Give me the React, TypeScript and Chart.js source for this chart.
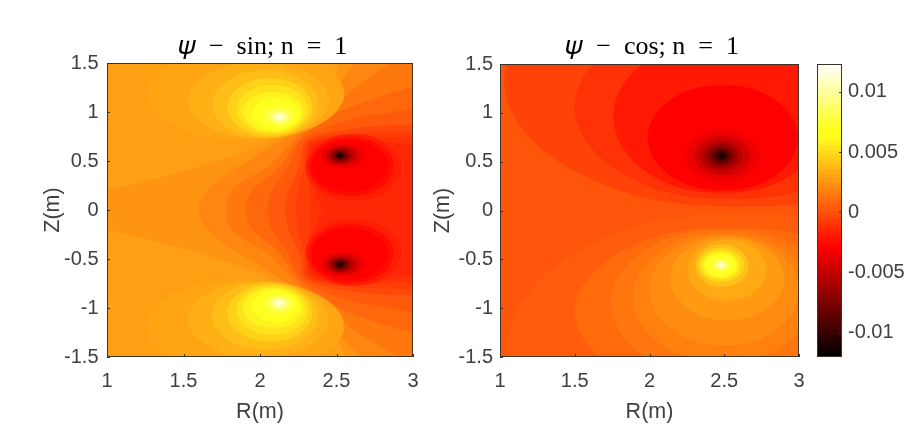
import React, { useEffect, useRef } from "react";
import { Chart, registerables } from "chart.js";

Chart.register(...registerables);

// Colour scale limits and tick values
const colorMin = -0.012;
const colorMax = 0.0123;
const colorTicks = [-0.01, -0.005, 0, 0.005, 0.01];
const colorSteps = 64;
const rTicks = [1, 1.5, 2, 2.5, 3];
const zTicks = [-1.5, -1, -0.5, 0, 0.5, 1, 1.5];

// Contours.
// Rings: [level, Rmin, Rmax, Zmin, Zmax]
type Ring = number[];
const sinBackground = 0.0028;
const sinFanLevels = [0.0024, 0.0019, 0.0014, 0.0008, 0.0003, -0.0003, -0.0007, -0.0011, -0.0015];
// Upper half of each "psi below level" boundary, from the midplane out to the edge
const sinFanArcs: number[][][] = [
  [[0.9, 0.19], [1.07, 0.22], [1.6, 0.44], [1.93, 0.61], [2.26, 0.86], [2.42, 1.1], [2.6, 1.6]],
  [[1.6, 0], [1.63, 0.15], [1.76, 0.34], [1.98, 0.55], [2.24, 0.82], [2.45, 1.15], [2.72, 1.6]],
  [[1.78, 0], [1.82, 0.21], [2.05, 0.44], [2.26, 0.78], [2.5, 1.1], [2.95, 1.55]],
  [[1.91, 0], [1.95, 0.2], [2.12, 0.42], [2.27, 0.74], [2.55, 1.02], [3.0, 1.26], [3.3, 1.4]],
  [[2.05, 0], [2.08, 0.2], [2.18, 0.42], [2.28, 0.72], [2.6, 0.92], [3.0, 1.03], [3.3, 1.1]],
  [[2.17, 0], [2.19, 0.2], [2.26, 0.45], [2.3, 0.7], [2.6, 0.83], [3.0, 0.87], [3.3, 0.88]],
  [[2.24, 0], [2.25, 0.2], [2.29, 0.45], [2.31, 0.69], [2.6, 0.78], [3.0, 0.8], [3.3, 0.8]],
  [[2.33, 0], [2.33, 0.2], [2.31, 0.45], [2.33, 0.68], [2.6, 0.74], [3.0, 0.74], [3.3, 0.74]],
  [[2.42, 0], [2.38, 0.1], [2.33, 0.4], [2.34, 0.66], [2.6, 0.7], [3.0, 0.66], [3.3, 0.6]],
];
const sinSpotRings: Ring[] = [
  [-0.0018, 2.3, 2.92, 0.1, 0.77],
  [-0.0025, 2.32, 2.87, 0.15, 0.74],
  [-0.0029, 2.34, 2.83, 0.19, 0.71],
  [-0.0036, 2.4, 2.68, 0.43, 0.67],
  [-0.0046, 2.43, 2.64, 0.46, 0.65],
  [-0.0056, 2.45, 2.61, 0.48, 0.63],
  [-0.0066, 2.465, 2.59, 0.49, 0.62],
  [-0.0076, 2.48, 2.57, 0.505, 0.605],
  [-0.0088, 2.49, 2.555, 0.52, 0.59],
  [-0.01, 2.5, 2.545, 0.53, 0.58],
  [-0.0112, 2.51, 2.535, 0.54, 0.57],
];
const sinPeakRings: Ring[] = [
  [0.003, 1.26, 2.55, 0.72, 1.65],
  [0.0034, 1.53, 2.45, 0.74, 1.5],
  [0.0039, 1.69, 2.38, 0.74, 1.42],
  [0.0046, 1.79, 2.34, 0.76, 1.34],
  [0.0052, 1.85, 2.31, 0.78, 1.27],
  [0.0058, 1.89, 2.28, 0.8, 1.2],
  [0.0064, 1.95, 2.26, 0.82, 1.14],
  [0.0072, 2.0, 2.24, 0.85, 1.08],
  [0.008, 2.04, 2.21, 0.87, 1.04],
  [0.009, 2.07, 2.19, 0.89, 1.01],
  [0.0102, 2.09, 2.165, 0.91, 0.99],
  [0.0115, 2.105, 2.145, 0.935, 0.965],
];
const cosBackground = 0.00015;
const cosUpperRings: Ring[] = [
  [-0.0005, 1.03, 4.2, 0.04, 2.6],
  [-0.0011, 1.5, 3.6, 0.12, 2.0],
  [-0.002, 1.76, 3.2, 0.18, 1.74],
  [-0.0029, 1.99, 2.99, 0.21, 1.28],
  [-0.0035, 2.24, 2.74, 0.3, 0.82],
  [-0.0045, 2.3, 2.67, 0.36, 0.76],
  [-0.0055, 2.34, 2.62, 0.41, 0.71],
  [-0.0065, 2.37, 2.59, 0.44, 0.68],
  [-0.0075, 2.4, 2.56, 0.47, 0.65],
  [-0.0085, 2.42, 2.54, 0.49, 0.63],
  [-0.0095, 2.44, 2.52, 0.51, 0.61],
  [-0.0105, 2.45, 2.51, 0.53, 0.59],
  [-0.0115, 2.465, 2.495, 0.545, 0.575],
];
const cosLowerRings: Ring[] = [
  [0.0004, 1.05, 4.2, -2.8, -0.03],
  [0.0009, 1.5, 3.6, -1.9, -0.18],
  [0.0013, 1.74, 3.25, -1.7, -0.2],
  [0.0017, 1.89, 3.1, -1.55, -0.24],
  [0.0021, 2.0, 3.0, -1.38, -0.26],
  [0.0026, 2.14, 2.9, -1.12, -0.28],
  [0.0032, 2.26, 2.78, -0.92, -0.3],
  [0.004, 2.31, 2.66, -0.78, -0.35],
  [0.0048, 2.33, 2.63, -0.73, -0.39],
  [0.0056, 2.35, 2.6, -0.7, -0.42],
  [0.0064, 2.37, 2.58, -0.68, -0.44],
  [0.0072, 2.39, 2.56, -0.65, -0.46],
  [0.0085, 2.43, 2.53, -0.62, -0.5],
  [0.01, 2.45, 2.51, -0.59, -0.53],
  [0.0115, 2.465, 2.495, -0.575, -0.545],
];

// Outline vertices of a ring, in units of its half-extents
const ringOutline = [
  [-1, 0], [-0.71, 0.71], [0, 1], [0.71, 0.71], [1, 0], [0.71, -0.71], [0, -1], [-0.71, -0.71],
];

function hot(v: number) {
  const f = Math.min(1, Math.max(0, (v - colorMin) / (colorMax - colorMin)));
  const r = Math.min(1, f / 0.375);
  const g = Math.min(1, Math.max(0, (f - 0.375) / 0.375));
  const b = Math.max(0.12 * g, Math.min(1, Math.max(0, (f - 0.75) / 0.25)));
  return `rgb(${Math.round(r * 255)},${Math.round(g * 255)},${Math.round(b * 255)})`;
}

type Layer = { level: number; pts: { x: number; y: number }[]; tension: number };

function ringLayer(ring: Ring, mirror = false): Layer {
  const [level, r0, r1, z0, z1] = ring;
  const cr = (r0 + r1) / 2, cz = (z0 + z1) / 2, hr = (r1 - r0) / 2, hz = (z1 - z0) / 2;
  const v = ringOutline.map(([a, b]) => ({ x: cr + a * hr, y: (mirror ? -1 : 1) * (cz + b * hz) }));
  return { level, pts: [v[7], ...v, v[0], v[1]], tension: 0.4 };
}

function fanLayer(level: number, arc: number[][]): Layer {
  const up = arc.map(([x, y]) => ({ x, y }));
  const down = arc.filter(([, y]) => y !== 0).map(([x, y]) => ({ x, y: -y })).reverse();
  const z = arc[arc.length - 1][1];
  return { level, pts: [...down, ...up, { x: 3.6, y: z }, { x: 3.6, y: -z }, down[0]], tension: 0.3 };
}

function rectLayer(level: number): Layer {
  const pts = [[0, -2], [0, 2], [4, 2], [4, -2], [0, -2]].map(([x, y]) => ({ x, y }));
  return { level, pts, tension: 0 };
}

const sinLayers: Layer[] = [
  rectLayer(sinBackground),
  ...sinFanLevels.map((l, i) => fanLayer(l, sinFanArcs[i])),
  ...sinSpotRings.flatMap((r) => [ringLayer(r), ringLayer(r, true)]),
  ...sinPeakRings.flatMap((r) => [ringLayer(r), ringLayer(r, true)]),
];
const cosLayers: Layer[] = [
  rectLayer(cosBackground),
  ...cosUpperRings.map((r) => ringLayer(r)),
  ...cosLowerRings.map((r) => ringLayer(r)),
];

const TEXT = "#404040";
const FONT = "'Liberation Sans', Arial, sans-serif";

const framePlugin = {
  id: "frame",
  afterDraw(chart: any) {
    const { ctx, chartArea: a, scales } = chart;
    ctx.save();
    ctx.strokeStyle = "#3a3428";
    ctx.lineWidth = 1;
    ctx.strokeRect(Math.round(a.left) + 0.5, Math.round(a.top) + 0.5, Math.round(a.width) - 1, Math.round(a.height) - 1);
    ctx.beginPath();
    const y = scales.y;
    (y.ticks || []).forEach((t: any) => {
      const p = Math.round(y.getPixelForValue(t.value)) + 0.5;
      if (y.position === "right") {
        ctx.moveTo(a.right, p);
        ctx.lineTo(a.right - 3, p);
      } else {
        ctx.moveTo(a.left, p);
        ctx.lineTo(a.left + 3, p);
      }
    });
    if (scales.x && scales.x.type === "linear") {
      scales.x.ticks.forEach((t: any) => {
        const p = Math.round(scales.x.getPixelForValue(t.value)) + 0.5;
        ctx.moveTo(p, a.bottom);
        ctx.lineTo(p, a.bottom - 3);
      });
    }
    ctx.stroke();
    ctx.restore();
  },
};

function panelConfig(layers: Layer[], title: string, yWidth: number, titleBottom: number, padRight: number, tickPad: number): any {
  return {
    type: "line",
    data: {
      datasets: [...layers].reverse().map((l) => ({
        data: l.pts,
        backgroundColor: hot(l.level),
        borderColor: hot(l.level),
        borderWidth: 0.5,
        fill: "shape",
        tension: l.tension,
        capBezierPoints: false,
        pointRadius: 0,
        parsing: false,
      })),
    },
    options: {
      animation: false,
      responsive: false,
      events: [],
      layout: { padding: { left: 0, right: padRight, top: 0, bottom: 0 } },
      plugins: {
        legend: { display: false },
        tooltip: { enabled: false },
        title: {
          display: true,
          text: title,
          fullSize: false,
          color: "#000",
          font: { family: "'Liberation Serif', 'DejaVu Serif', serif", size: 26, weight: "normal", lineHeight: 1 },
          padding: { top: 34, bottom: titleBottom },
        },
      },
      scales: {
        x: {
          type: "linear",
          min: 1,
          max: 3,
          afterBuildTicks: (s: any) => { s.ticks = rTicks.map((value) => ({ value })); },
          afterFit: (s: any) => { s.height = 73; s.paddingLeft = 0; s.paddingRight = 0; },
          grid: { display: false, drawTicks: false },
          border: { display: false },
          ticks: { color: TEXT, font: { family: FONT, size: 20 }, padding: 12, maxRotation: 0, autoSkip: false, callback: (v: any) => String(v) },
          title: { display: true, text: "R(m)", color: TEXT, font: { family: FONT, size: 21.5 }, padding: { top: 0, bottom: 5 } },
        },
        y: {
          min: -1.5,
          max: 1.5,
          afterBuildTicks: (s: any) => { s.ticks = zTicks.map((value) => ({ value })); },
          afterFit: (s: any) => { s.width = yWidth; s.paddingTop = 0; s.paddingBottom = 0; },
          grid: { display: false, drawTicks: false },
          border: { display: false },
          ticks: { color: TEXT, font: { family: FONT, size: 20 }, padding: tickPad, autoSkip: false, callback: (v: any) => String(v) },
          title: { display: true, text: "Z(m)", color: TEXT, font: { family: FONT, size: 21.5 }, padding: { top: 0, bottom: 0 } },
        },
      },
    },
    plugins: [framePlugin],
  };
}

function barConfig(): any {
  const step = (colorMax - colorMin) / colorSteps;
  const datasets = Array.from({ length: colorSteps }, (_, i) => {
    const lo = colorMin + i * step;
    return {
      data: [[lo, lo + step]],
      backgroundColor: hot(lo + step / 2),
      borderWidth: 0,
      barPercentage: 1,
      categoryPercentage: 1,
    };
  });
  return {
    type: "bar",
    data: { labels: [""], datasets },
    options: {
      animation: false,
      responsive: false,
      events: [],
      layout: { padding: { left: 12, right: 0, top: 64, bottom: 73 } },
      plugins: { legend: { display: false }, tooltip: { enabled: false } },
      scales: {
        x: { display: false, stacked: true, grid: { display: false } },
        y: {
          position: "right",
          min: colorMin,
          max: colorMax,
          afterBuildTicks: (s: any) => { s.ticks = colorTicks.map((value) => ({ value })); },
          afterFit: (s: any) => { s.width = 80; s.paddingTop = 0; s.paddingBottom = 0; },
          grid: { display: false, drawTicks: false },
          border: { display: false },
          ticks: { color: TEXT, font: { family: FONT, size: 20 }, padding: 6, autoSkip: false, callback: (v: any) => String(v) },
        },
      },
    },
    plugins: [framePlugin],
  };
}

function Canvas({ config, left, width }: { config: () => any; left: number; width: number }) {
  const ref = useRef<HTMLCanvasElement>(null);
  useEffect(() => {
    const chart = new Chart(ref.current!, config());
    return () => chart.destroy();
  }, []);
  return <canvas ref={ref} width={width} height={430} style={{ position: "absolute", left, top: 0, width, height: 430, filter: "blur(0.4px)" }} />;
}

export default function App() {
  return (
    <div style={{ position: "fixed", left: 0, top: 0, width: 922, height: 437, background: "#fff", overflow: "hidden" }}>
      <Canvas left={40} width={388} config={() => panelConfig(sinLayers, "\u2009𝜓\u2002−\u2002sin; n\u2002=\u20021", 67, 3, 15, 8.5)} />
      <Canvas left={430} width={385} config={() => panelConfig(cosLayers, "\u2009𝜓\u2002−\u2002cos; n\u2002=\u20021", 70, 4, 16, 7)} />
      <Canvas left={805} width={117} config={barConfig} />
    </div>
  );
}
